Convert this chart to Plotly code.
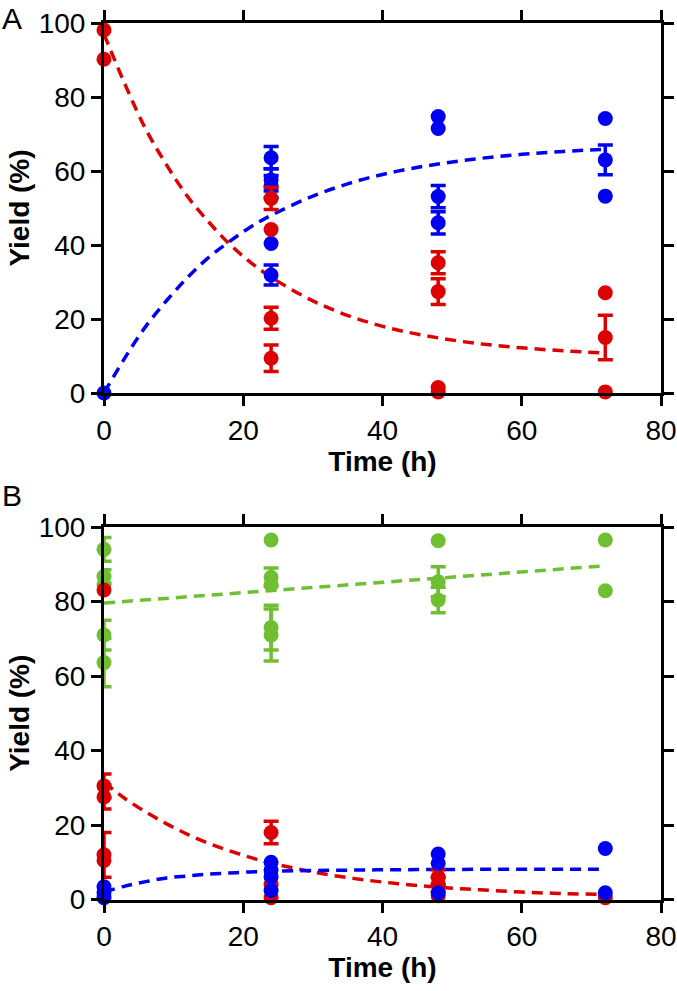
import plotly.graph_objects as go

# ---------------- Panel A data ----------------
A_red_x_err = [24, 24, 24, 48, 48, 72]
A_red_y_err = [52.6, 20.2, 9.4, 35.2, 27.4, 15.0]
A_red_e = [3.0, 3.0, 3.6, 3.0, 3.5, 6.0]
A_red_x_pt = [0, 0, 24, 48, 48, 72, 72]
A_red_y_pt = [98.1, 90.2, 44.2, 1.5, 0.3, 27.1, 0.3]

A_blue_x_err = [24, 24, 24, 24, 48, 48, 72]
A_blue_y_err = [63.6, 57.6, 55.8, 31.9, 53.1, 46.0, 63.0]
A_blue_e = [3.0, 3.0, 3.0, 2.7, 3.0, 3.0, 4.0]
A_blue_x_pt = [0, 24, 48, 48, 72, 72]
A_blue_y_pt = [0.0, 40.4, 74.7, 71.5, 74.2, 53.2]

fit_x = [0, 3, 6, 9, 12, 15, 18, 21, 24, 30, 36, 42, 48, 54, 60, 66, 72]
A_red_fit = [97.0, 83.5, 71.3, 61.6, 53.1, 46.3, 40.3, 35.4, 31.3, 24.9, 20.3, 17.1, 14.9, 13.3, 12.2, 11.4, 10.8]
A_blue_fit = [0.0, 9.5, 18.0, 25.0, 31.2, 36.6, 40.9, 44.8, 48.0, 53.2, 57.1, 59.9, 61.9, 63.4, 64.5, 65.3, 65.9]

# ---------------- Panel B data ----------------
B_green_x_err = [0, 0, 0, 0, 24, 24, 24, 48, 48]
B_green_y_err = [94.0, 86.7, 71.0, 63.6, 86.5, 73.0, 71.0, 85.3, 80.4]
B_green_e = [3.2, 1.8, 4.0, 6.5, 2.5, 6.0, 7.0, 4.0, 3.4]
B_green_x_pt = [0, 24, 24, 48, 72, 72]
B_green_y_pt = [84.5, 96.5, 84.5, 96.3, 96.5, 82.9]

B_red_x_err = [0, 0, 0, 24, 48, 48]
B_red_y_err = [30.5, 27.5, 12.0, 18.0, 6.0, 4.0]
B_red_e = [3.2, 3.2, 6.0, 3.0, 2.0, 2.0]
B_red_x_pt = [0, 0, 24, 24, 48, 72]
B_red_y_pt = [83.1, 10.5, 4.0, 0.5, 1.0, 0.5]

B_blue_x_pt = [0, 0, 0, 24, 24, 24, 24, 48, 48, 48, 72, 72]
B_blue_y_pt = [3.4, 1.8, 0.5, 10.0, 7.9, 6.1, 2.4, 12.2, 9.7, 1.8, 13.7, 1.8]

B_green_fit_x = [0, 72]
B_green_fit = [79.6, 89.6]
B_red_fit = [31.5, 27.1, 23.5, 20.3, 17.5, 15.1, 13.1, 11.3, 9.8, 7.4, 5.6, 4.3, 3.3, 2.6, 2.0, 1.6, 1.35]
B_blue_fit = [2.0, 3.6, 4.8, 5.8, 6.3, 6.8, 7.1, 7.4, 7.55, 7.8, 7.9, 8.0, 8.05, 8.1, 8.1, 8.1, 8.1]

x_ticks = [0, 20, 40, 60, 80]
y_ticks = [0, 20, 40, 60, 80, 100]

RED = "rgb(221,0,0)"
BLUE = "rgb(0,0,240)"
GREEN = "rgb(112,190,50)"
FONT = "Liberation Sans, Arial, Helvetica, sans-serif"
MS = 15

fig = go.Figure()


def fit(x, y, color, xa, ya):
    fig.add_trace(go.Scatter(x=x, y=y, mode="lines", xaxis=xa, yaxis=ya,
                             line=dict(color=color, width=3.5, dash="11px,7px", shape="spline"),
                             hoverinfo="skip", showlegend=False, cliponaxis=False))


def pts(x, y, color, xa, ya, err=None):
    kw = {}
    if err is not None:
        kw["error_y"] = dict(type="data", array=err, visible=True, color=color,
                             thickness=3.5, width=7.5)
    fig.add_trace(go.Scatter(x=x, y=y, mode="markers", xaxis=xa, yaxis=ya,
                             marker=dict(color=color, size=MS, line=dict(width=0)),
                             showlegend=False, cliponaxis=False, **kw))


# Panel A
fit(fit_x, A_red_fit, RED, "x", "y")
fit(fit_x, A_blue_fit, BLUE, "x", "y")
pts(A_blue_x_err, A_blue_y_err, BLUE, "x", "y", A_blue_e)
pts(A_blue_x_pt, A_blue_y_pt, BLUE, "x", "y")
pts(A_red_x_err, A_red_y_err, RED, "x", "y", A_red_e)
pts(A_red_x_pt, A_red_y_pt, RED, "x", "y")

# Panel B
fit(B_green_fit_x, B_green_fit, GREEN, "x2", "y2")
fit(fit_x, B_red_fit, RED, "x2", "y2")
fit(fit_x, B_blue_fit, BLUE, "x2", "y2")
pts(B_green_x_err, B_green_y_err, GREEN, "x2", "y2", B_green_e)
pts(B_green_x_pt, B_green_y_pt, GREEN, "x2", "y2")
pts(B_red_x_err, B_red_y_err, RED, "x2", "y2", B_red_e)
pts(B_red_x_pt, B_red_y_pt, RED, "x2", "y2")
pts(B_blue_x_pt, B_blue_y_pt, BLUE, "x2", "y2")

W, H = 677, 991
xdom = [104 / W, 661 / W]
ydomA = [1 - 393 / H, 1 - 23 / H]
ydomB = [1 - 899.5 / H, 1 - 527 / H]

axis_common = dict(showline=True, linecolor="black", linewidth=3, mirror="ticks",
                   ticks="outside", ticklen=10, tickwidth=3, tickcolor="black",
                   showgrid=False, zeroline=False, automargin=False,
                   tickfont=dict(family=FONT, size=28, color="black"))

xa = dict(axis_common, range=[0, 80], tickvals=x_ticks, domain=xdom,
          title=dict(text="<b>Time (h)</b>", font=dict(family=FONT, size=28, color="black"), standoff=2))
ya = dict(axis_common, range=[0, 100], tickvals=y_ticks,
          title=dict(text="<b>Yield (%)</b>", font=dict(family=FONT, size=28, color="black"), standoff=1))

fig.update_layout(
    width=W, height=H, margin=dict(l=0, r=0, t=0, b=0),
    paper_bgcolor="white", plot_bgcolor="white",
    xaxis=dict(xa, anchor="y"),
    yaxis=dict(ya, domain=ydomA, anchor="x"),
    xaxis2=dict(xa, anchor="y2"),
    yaxis2=dict(ya, domain=ydomB, anchor="x2"),
    annotations=[
        dict(text="A", x=0 / W, y=1.0, xref="paper", yref="paper", xanchor="left", yanchor="top",
             showarrow=False, font=dict(family=FONT, size=30, color="black")),
        dict(text="B", x=0 / W, y=1 - 477 / H, xref="paper", yref="paper", xanchor="left", yanchor="top",
             showarrow=False, font=dict(family=FONT, size=30, color="black")),
    ],
)

# remove the default page margin so the 677x991 figure fills the window exactly
fig.write_html("out.html", config={"displayModeBar": False},
               post_script="document.body.style.margin='0px';")
